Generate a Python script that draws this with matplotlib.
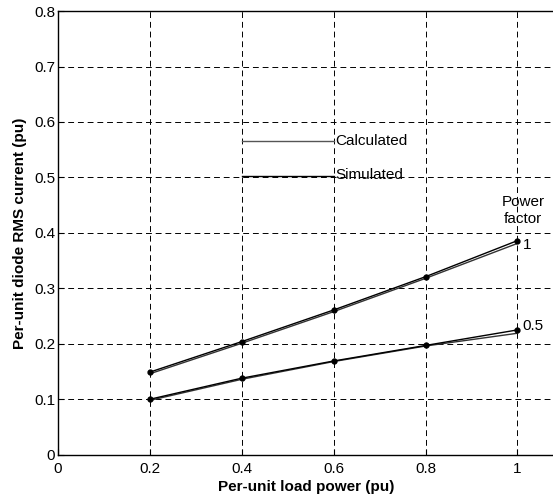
import matplotlib.pyplot as plt

plt.rcParams['font.family'] = ['Liberation Sans', 'DejaVu Sans']

# Per-unit load power
load_power = [0.2, 0.4, 0.6, 0.8, 1.0]

# Diode RMS current, power factor 1
calc_pf1 = [0.149, 0.204, 0.261, 0.321, 0.386]
sim_pf1 = [0.146, 0.201, 0.258, 0.318, 0.381]

# Diode RMS current, power factor 0.5
calc_pf05 = [0.100, 0.138, 0.169, 0.197, 0.225]
sim_pf05 = [0.098, 0.136, 0.168, 0.196, 0.219]

x_ticks = [0, 0.2, 0.4, 0.6, 0.8, 1]
y_ticks = [0, 0.1, 0.2, 0.3, 0.4, 0.5, 0.6, 0.7, 0.8]

fig = plt.figure(figsize=(5.53, 5.03), dpi=100)
ax = fig.add_axes([0.105, 0.096, 0.897, 0.882])

# Simulated curves (plain lines)
ax.plot(load_power, sim_pf1, color='#333333', linewidth=1.0)
ax.plot(load_power, sim_pf05, color='#333333', linewidth=1.0)

# Calculated curves with point markers
ax.plot(load_power, calc_pf1, color='black', linewidth=1.0,
        marker='o', markersize=3.5)
ax.plot(load_power, calc_pf05, color='black', linewidth=1.0,
        marker='o', markersize=3.5)

# Hand-drawn legend inside the axes
ax.plot([0.4, 0.6], [0.565, 0.565], color='#555555', linewidth=1.0)
ax.plot([0.4, 0.6], [0.502, 0.502], color='black', linewidth=1.0)
ax.text(0.603, 0.565, 'Calculated', fontsize=11, va='center', ha='left')
ax.text(0.603, 0.505, 'Simulated', fontsize=11, va='center', ha='left')

# Power factor labels
ax.text(1.012, 0.44, 'Power\nfactor', fontsize=11, ha='center', va='center',
        linespacing=1.25)
ax.text(1.012, 0.378, '1', fontsize=11, ha='left', va='center')
ax.text(1.012, 0.232, '0.5', fontsize=11, ha='left', va='center')

ax.set_xlim(0, 1.08)
ax.set_ylim(0, 0.8)
ax.set_xticks(x_ticks)
ax.set_xticklabels(['0', '0.2', '0.4', '0.6', '0.8', '1'])
ax.set_yticks(y_ticks)
ax.set_yticklabels(['0', '0.1', '0.2', '0.3', '0.4', '0.5', '0.6', '0.7', '0.8'])
ax.tick_params(direction='in', length=4, labelsize=11, width=0.8, pad=2)
ax.tick_params(axis='x', pad=5)

ax.grid(True, color='black', linestyle=(0, (6, 4)), linewidth=0.7)
ax.spines['right'].set_visible(False)
for side in ['left', 'top', 'bottom']:
    ax.spines[side].set_linewidth(1.0)

ax.set_xlabel('Per-unit load power (pu)', fontsize=11, fontweight='bold',
              labelpad=3)
ax.set_ylabel('Per-unit diode RMS current (pu)', fontsize=11, fontweight='bold',
              labelpad=5)

fig.savefig('out.png', dpi=100)
